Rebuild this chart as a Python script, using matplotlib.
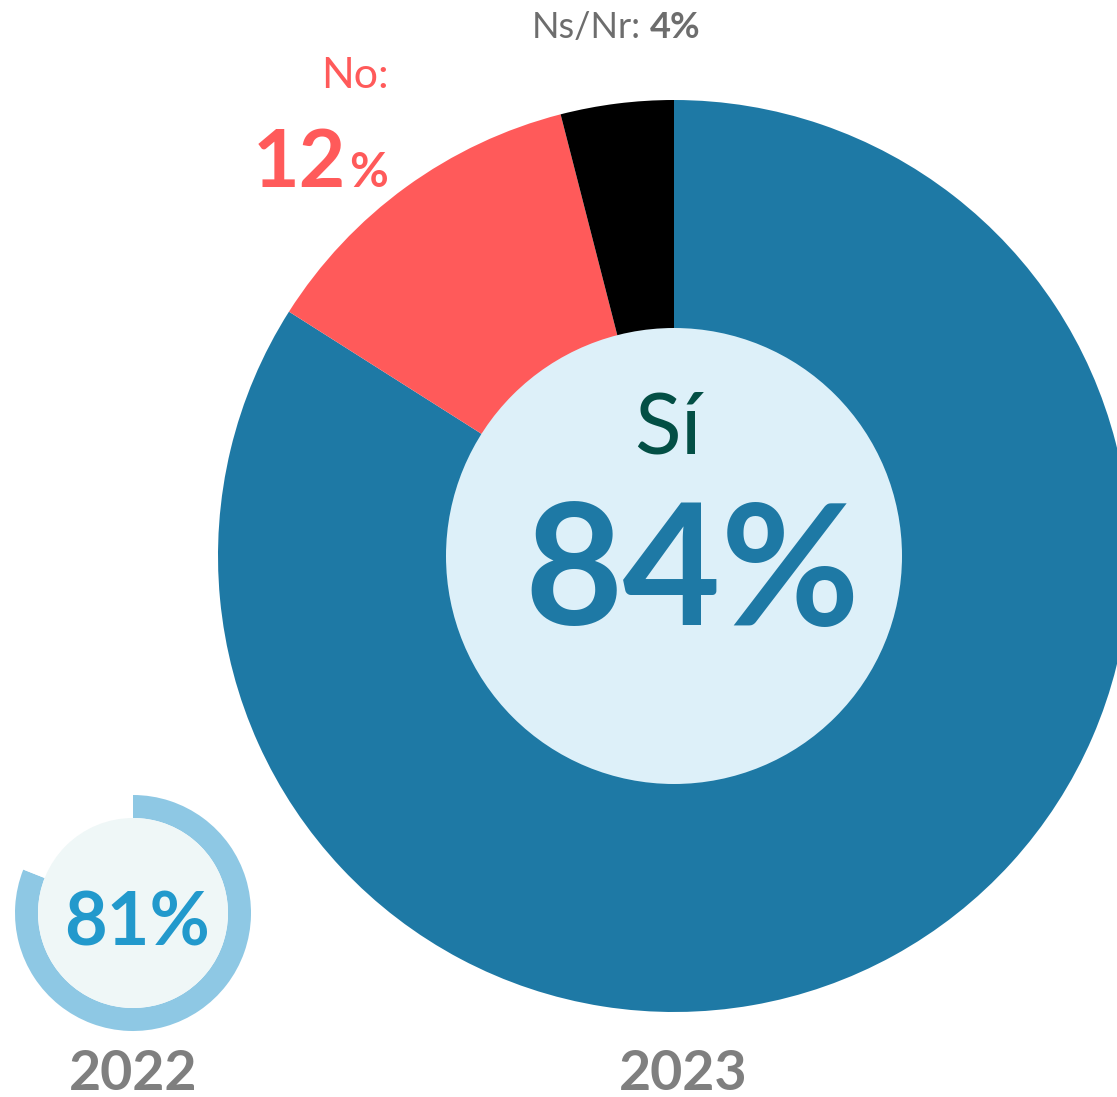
import matplotlib
matplotlib.use('Agg')
import matplotlib.pyplot as plt
from matplotlib.patches import Circle

plt.rcParams['font.family'] = ['Lato', 'DejaVu Sans']

# survey answers
labels_2023 = ['Sí', 'No', 'Ns/Nr']
values_2023 = [84, 12, 4]
colors_2023 = ['#1E79A5', '#FF5A5A', '#000000']

labels_2022 = ['Sí', 'resto']
values_2022 = [81, 19]
colors_2022 = ['#8EC8E4', '#FFFFFF']

W, H = 1117, 1097
fig = plt.figure(figsize=(W / 100, H / 100), dpi=100)
ax = fig.add_axes([0, 0, 1, 1])

# big donut 2023
big_c = (674, H - 556)
ax.pie(values_2023, colors=colors_2023, center=big_c, radius=456,
       startangle=90, counterclock=False, frame=True,
       wedgeprops=dict(linewidth=0))
ax.add_patch(Circle(big_c, 228, facecolor='#DDF0F9', edgecolor='none', zorder=3))

# small donut 2022
small_c = (133, H - 913)
ax.pie(values_2022, colors=colors_2022, center=small_c, radius=118,
       startangle=90, counterclock=False, frame=True,
       wedgeprops=dict(linewidth=0, width=23))
ax.add_patch(Circle(small_c, 95, facecolor='#EFF7F7', edgecolor='none', zorder=3))

ax.set_xlim(0, W)
ax.set_ylim(0, H)
ax.set_aspect('equal')
ax.axis('off')

# labels
ax.text(668, H - 453, labels_2023[0], color='#034F45', fontsize=62,
        ha='center', va='baseline', zorder=5)
ax.text(692, H - 625, f'{values_2023[0]}%', color='#1E79A5', fontsize=122,
        fontweight='bold', ha='center', va='baseline', zorder=5)

ax.text(355, H - 88, labels_2023[1] + ':', color='#FF5A5A', fontsize=31,
        ha='center', va='baseline', zorder=5)
ax.text(346, H - 187, str(values_2023[1]), color='#FF5A5A', fontsize=58,
        fontweight='bold', ha='right', va='baseline', zorder=5)
ax.text(349, H - 187, '%', color='#FF5A5A', fontsize=34,
        fontweight='bold', ha='left', va='baseline', zorder=5)

ax.text(641, H - 38, labels_2023[2] + ':', color='#6D6D6D', fontsize=26,
        ha='right', va='baseline', zorder=5)
ax.text(650, H - 38, f'{values_2023[2]}%', color='#6D6D6D', fontsize=26,
        fontweight='bold', ha='left', va='baseline', zorder=5)

ax.text(137, H - 945, f'{values_2022[0]}%', color='#2299CC', fontsize=53,
        fontweight='bold', ha='center', va='baseline', zorder=5)

ax.text(133, H - 1090, '2022', color='#7F7F7F', fontsize=40,
        fontweight='bold', ha='center', va='baseline', zorder=5)
ax.text(683, H - 1090, '2023', color='#7F7F7F', fontsize=40,
        fontweight='bold', ha='center', va='baseline', zorder=5)

fig.savefig('out.png', dpi=100, facecolor='white')
